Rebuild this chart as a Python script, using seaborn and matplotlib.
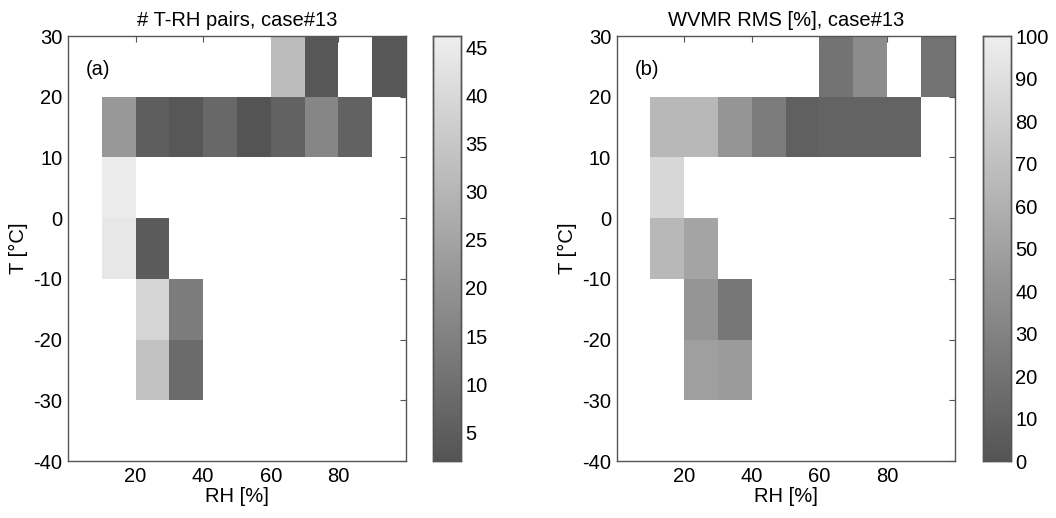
import numpy as np
import pandas as pd
import matplotlib
matplotlib.use('Agg')
import matplotlib.pyplot as plt
import seaborn as sns
from matplotlib.colors import LinearSegmentedColormap

sns.set_style('white')
plt.rcParams['font.family'] = ['Liberation Sans', 'DejaVu Sans']
plt.rcParams['text.color'] = 'black'
plt.rcParams['axes.labelcolor'] = 'black'
plt.rcParams['xtick.color'] = 'black'
plt.rcParams['ytick.color'] = 'black'

# bins (lower edges)
rh_bins = [0, 10, 20, 30, 40, 50, 60, 70, 80, 90]
t_bins = [-40, -30, -20, -10, 0, 10, 20]

# occupied cells: (RH lower edge, T lower edge)
cell_rh = [10, 20, 30, 40, 50, 60, 70, 80,
           60, 70, 90,
           10, 10, 20,
           20, 30, 20, 30]
cell_t = [10, 10, 10, 10, 10, 10, 10, 10,
          20, 20, 20,
          0, -10, -10,
          -20, -20, -30, -30]
n_pairs = [21.5, 5, 3, 7.7, 2, 6.3, 16.5, 6.3,
           32, 3, 3,
           45.5, 44, 4,
           39, 13.5, 33.5, 8.6]
wvmr_rms = [65, 65, 42, 26, 8, 10, 10, 10,
            20, 36, 20,
            85, 65, 52,
            42, 23, 49, 46]

df = pd.DataFrame({'RH': cell_rh, 'T': cell_t, 'n': n_pairs, 'rms': wvmr_rms})

cmap = LinearSegmentedColormap.from_list('mgray', ['#545454', '#eeeeee'])

fig = plt.figure(figsize=(10.56, 5.18), dpi=100)
ax1 = fig.add_axes([0.0644, 0.110, 0.320, 0.8205])
cax1 = fig.add_axes([0.410, 0.110, 0.0265, 0.8205])
ax2 = fig.add_axes([0.584, 0.110, 0.320, 0.8205])
cax2 = fig.add_axes([0.931, 0.110, 0.0265, 0.8205])

fs = 14.5
panels = [(ax1, cax1, 'n', '# T-RH pairs, case#13', '(a)', 2, 46.2, [5, 10, 15, 20, 25, 30, 35, 40, 45]),
          (ax2, cax2, 'rms', 'WVMR RMS [%], case#13', '(b)', 0, 100, list(range(0, 101, 10)))]

for ax, cax, col, title, tag, vmin, vmax, cticks in panels:
    grid = df.pivot(index='T', columns='RH', values=col).reindex(index=t_bins, columns=rh_bins)
    sns.heatmap(grid, ax=ax, cbar_ax=cax, cmap=cmap, vmin=vmin, vmax=vmax,
                xticklabels=False, yticklabels=False)
    ax.invert_yaxis()
    ax.set_xlim(0, 10)
    ax.set_ylim(0, 7)
    ax.set_xticks([2, 4, 6, 8])
    ax.set_xticklabels(['20', '40', '60', '80'])
    ax.set_yticks(range(8))
    ax.set_yticklabels([str(v) for v in range(-40, 31, 10)], rotation=0)
    ax.tick_params(direction='in', length=4, top=True, right=True, color='#555555',
                   labelsize=fs, pad=4)
    for s in ax.spines.values():
        s.set_visible(True)
        s.set_color('#555555')
        s.set_linewidth(1)
    ax.set_xlabel('RH [%]', fontsize=fs, labelpad=1)
    ax.set_ylabel('T [°C]', fontsize=fs, labelpad=4)
    ax.set_title(title, fontsize=fs, pad=7)
    ax.text(0.53, 6.45, tag, fontsize=fs, va='center', ha='left')

    cax.set_yticks(cticks)
    cax.set_yticklabels([str(v) for v in cticks])
    cax.tick_params(direction='in', length=4, left=True, right=True, color='#555555',
                    labelsize=fs, pad=3)
    for s in cax.spines.values():
        s.set_visible(True)
        s.set_color('#555555')
        s.set_linewidth(1)

fig.savefig('out.png', dpi=100)
